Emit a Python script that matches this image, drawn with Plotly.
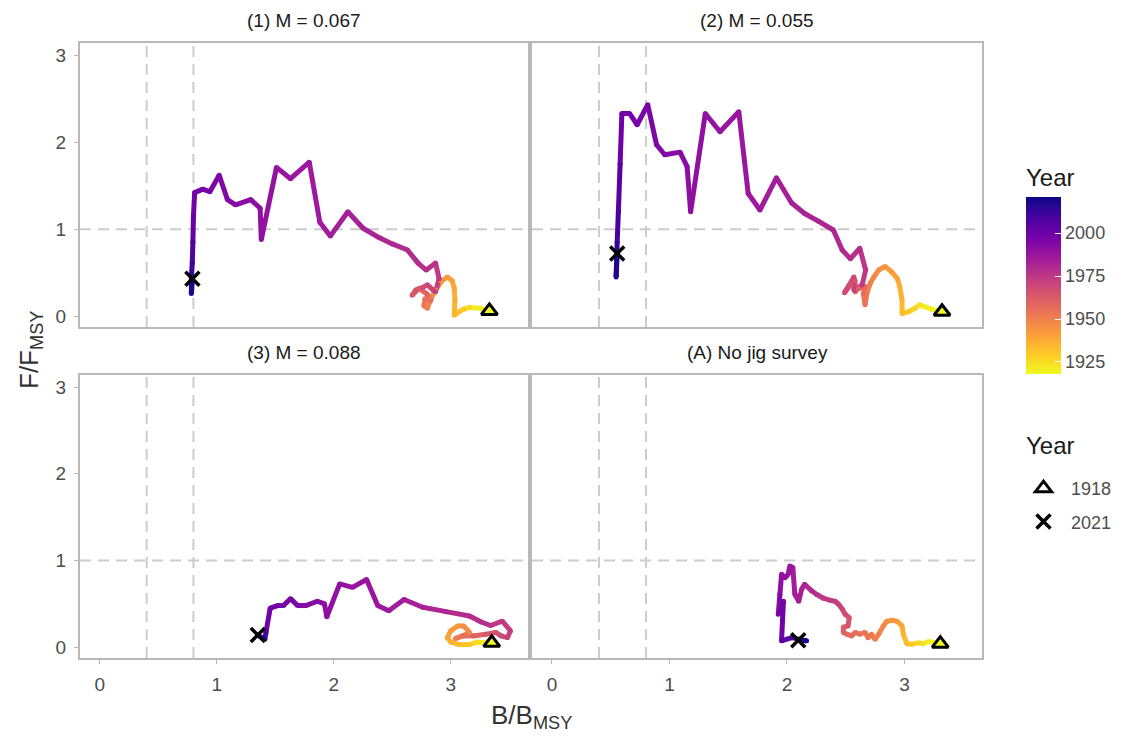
import plotly.graph_objects as go

# ---------------------------------------------------------------------------
# Data: relative biomass (B/BMSY) and fishing mortality (F/FMSY) by year
# ---------------------------------------------------------------------------
YEAR_MIN, YEAR_MAX = 1918, 2021

# (1) M = 0.067
years_m1 = [1918, 1922, 1926, 1929, 1932, 1935, 1937, 1939, 1941, 1943, 1945, 1947,
            1949, 1951, 1953, 1955, 1957, 1959, 1961, 1963, 1965, 1967, 1969, 1971,
            1973, 1975, 1977, 1978, 1979, 1980, 1981, 1982, 1983, 1984, 1985, 1986,
            1987, 1988, 1989, 1990, 1991, 1992, 1993, 1994, 1995, 1996, 1997, 1998,
            2002, 2007, 2011, 2015, 2018, 2021]
b_m1 = [3.33, 3.26, 3.16, 3.11, 3.07, 3.03, 3.035, 3.03, 3.01, 2.97, 2.92, 2.87,
        2.83, 2.80, 2.77, 2.78, 2.83, 2.80, 2.73, 2.67, 2.70, 2.76, 2.80, 2.85,
        2.87, 2.90, 2.87, 2.79, 2.72, 2.63, 2.50, 2.39, 2.25, 2.12, 1.97, 1.88,
        1.79, 1.63, 1.51, 1.38, 1.37, 1.29, 1.16, 1.09, 1.02, 0.94, 0.88, 0.81,
        0.80, 0.795, 0.79, 0.782, 0.782, 0.791]
f_m1 = [0.06, 0.09, 0.10, 0.08, 0.05, 0.01, 0.18, 0.32, 0.41, 0.45, 0.40, 0.30,
        0.20, 0.09, 0.12, 0.20, 0.18, 0.25, 0.32, 0.24, 0.30, 0.33, 0.36, 0.30,
        0.28, 0.43, 0.61, 0.53, 0.61, 0.76, 0.83, 0.90, 1.01, 1.20, 0.92, 1.08,
        1.77, 1.58, 1.71, 0.88, 1.24, 1.34, 1.28, 1.34, 1.62, 1.43, 1.46, 1.42,
        1.15, 0.85, 0.62, 0.45, 0.26, 0.43]

# (2) M = 0.055
years_m2 = [1918, 1921, 1924, 1927, 1930, 1933, 1936, 1938, 1940, 1942, 1944, 1946,
            1948, 1950, 1952, 1954, 1956, 1958, 1960, 1962, 1964, 1966, 1968, 1970,
            1972, 1974, 1976, 1978, 1979, 1980, 1981, 1982, 1983, 1984, 1985, 1986,
            1987, 1988, 1989, 1990, 1991, 1992, 1993, 1994, 1995, 1996, 1997, 1998,
            1999, 2004, 2009, 2013, 2017, 2021]
b_m2 = [3.32, 3.23, 3.13, 3.09, 3.035, 2.98, 2.98, 2.96, 2.94, 2.89, 2.835, 2.78,
        2.74, 2.71, 2.68, 2.665, 2.65, 2.665, 2.61, 2.58, 2.58, 2.54, 2.49, 2.57,
        2.57, 2.64, 2.67, 2.62, 2.54, 2.47, 2.395, 2.27, 2.15, 2.04, 1.91, 1.77,
        1.67, 1.59, 1.43, 1.305, 1.18, 1.15, 1.09, 0.96, 0.89, 0.815, 0.725, 0.66,
        0.595, 0.58, 0.565, 0.555, 0.546, 0.555]
f_m2 = [0.05, 0.08, 0.13, 0.09, 0.05, 0.03, 0.18, 0.34, 0.43, 0.51, 0.57, 0.53,
        0.45, 0.38, 0.26, 0.13, 0.26, 0.34, 0.32, 0.28, 0.41, 0.36, 0.27, 0.45,
        0.30, 0.36, 0.53, 0.78, 0.66, 0.76, 0.99, 1.09, 1.18, 1.30, 1.59, 1.22,
        1.41, 2.35, 2.12, 2.33, 1.20, 1.72, 1.885, 1.855, 1.97, 2.43, 2.20, 2.33,
        2.33, 1.75, 1.20, 0.85, 0.45, 0.72]

# (3) M = 0.088
years_m3 = [1918, 1922, 1926, 1930, 1934, 1937, 1940, 1942, 1944, 1946, 1948, 1950,
            1952, 1956, 1960, 1964, 1967, 1969, 1971, 1973, 1975, 1977, 1978, 1979,
            1981, 1983, 1985, 1986, 1987, 1988, 1989, 1990, 1991, 1992, 1993, 1994,
            1995, 1996, 1997, 1998, 1999, 2008, 2016, 2021]
b_m3 = [3.35, 3.285, 3.23, 3.16, 3.07, 3.00, 2.97, 3.00, 3.06, 3.11, 3.16, 3.10,
        3.04, 3.10, 3.19, 3.30, 3.385, 3.43, 3.485, 3.51, 3.44, 3.34, 3.26, 3.16,
        2.96, 2.76, 2.60, 2.47, 2.375, 2.28, 2.16, 2.05, 1.94, 1.92, 1.86, 1.76,
        1.69, 1.63, 1.57, 1.52, 1.456, 1.42, 1.41, 1.35]
f_m3 = [0.05, 0.05, 0.06, 0.03, 0.03, 0.06, 0.11, 0.19, 0.245, 0.245, 0.17, 0.13,
        0.10, 0.13, 0.13, 0.15, 0.17, 0.13, 0.11, 0.19, 0.30, 0.25, 0.29, 0.36,
        0.41, 0.46, 0.55, 0.42, 0.48, 0.78, 0.69, 0.73, 0.35, 0.50, 0.53, 0.48,
        0.48, 0.56, 0.48, 0.48, 0.45, 0.17, 0.09, 0.14]

# (A) No jig survey
years_a = [1918, 1921, 1924, 1927, 1930, 1933, 1936, 1939, 1942, 1944, 1946, 1948,
           1950, 1951, 1952, 1953, 1954, 1955, 1956, 1957, 1958, 1960, 1962, 1964,
           1966, 1968, 1970, 1972, 1973, 1974, 1976, 1978, 1980, 1982, 1983, 1984,
           1985, 1986, 1987, 1988, 1989, 1990, 1993, 1996, 1997, 1998, 2004, 2010,
           2017, 2021]
b_a = [3.305, 3.205, 3.16, 3.12, 3.063, 3.02, 2.99, 2.98, 2.935, 2.90, 2.85, 2.82,
       2.78, 2.75, 2.72, 2.69, 2.665, 2.62, 2.58, 2.55, 2.51, 2.48, 2.48, 2.52,
       2.53, 2.495, 2.47, 2.44, 2.41, 2.37, 2.31, 2.25, 2.21, 2.15, 2.125, 2.10,
       2.067, 2.05, 2.025, 2.01, 1.983, 1.954, 1.94, 1.926, 1.954, 1.97, 1.954, 2.04,
       2.167, 2.096]
f_a = [0.04, 0.065, 0.04, 0.05, 0.033, 0.04, 0.15, 0.245, 0.30, 0.31, 0.30, 0.245,
       0.15, 0.09, 0.15, 0.11, 0.17, 0.15, 0.17, 0.13, 0.15, 0.17, 0.23, 0.245,
       0.34, 0.38, 0.44, 0.495, 0.53, 0.54, 0.565, 0.61, 0.65, 0.726, 0.668, 0.53,
       0.61, 0.918, 0.937, 0.84, 0.80, 0.84, 0.61, 0.38, 0.46, 0.53, 0.073, 0.11,
       0.073, 0.081]

panel_titles = ["(1) M = 0.067", "(2) M = 0.055", "(3) M = 0.088", "(A) No jig survey"]
panel_data = [(years_m1, b_m1, f_m1), (years_m2, b_m2, f_m2),
              (years_m3, b_m3, f_m3), (years_a, b_a, f_a)]

b_ref_lines = [0.4, 0.8]
f_ref_lines = [1.0]
axis_ticks = [0, 1, 2, 3]
colorbar_ticks = [1925, 1950, 1975, 2000]

# ---------------------------------------------------------------------------
# Styling
# ---------------------------------------------------------------------------
FONT = "Liberation Sans, Arial, sans-serif"
PLASMA = ["#0d0887", "#46039f", "#7201a8", "#9c179e", "#bd3786",
          "#d8576b", "#ed7953", "#fb9f3a", "#fdca26", "#f0f921"]
BORDER = "#b8b8b8"
REF_LINE = "#cccccc"
LINE_W = 5
TICK_FONT = dict(size=19, color="#4d4d4d", family=FONT)
LEGEND_TITLE_FONT = dict(size=24, color="#1a1a1a", family=FONT)


def _hex(c):
    c = c.lstrip("#")
    return [int(c[i:i + 2], 16) for i in (0, 2, 4)]


def year_colour(year):
    """Reversed plasma: newest year dark blue, oldest yellow."""
    t = (YEAR_MAX - year) / (YEAR_MAX - YEAR_MIN)
    t = min(max(t, 0.0), 1.0)
    pos = t * (len(PLASMA) - 1)
    i = min(int(pos), len(PLASMA) - 2)
    frac = pos - i
    a, b = _hex(PLASMA[i]), _hex(PLASMA[i + 1])
    rgb = [round(a[k] + (b[k] - a[k]) * frac) for k in range(3)]
    return "rgb({},{},{})".format(*rgb)


# Plot area: margins in pixels, panel domains in paper units
W, H = 1127, 738
M_L, M_R, M_T, M_B = 80, 145, 43, 80
PW, PH = W - M_L - M_R, H - M_T - M_B
X_DOMAINS = [[0, 448 / PW], [452 / PW, 1]]
Y_DOMAINS = [[(H - M_B - 327) / PH, 1], [0, (H - M_B - 375) / PH]]
X_RANGE = [-0.17, 3.66]
Y_RANGE = [-0.125, 3.14]


def py(pixel_y):
    """Paper y for a pixel row measured from the top of the figure."""
    return (H - M_B - pixel_y) / PH


def px(pixel_x):
    return (pixel_x - M_L) / PW


fig = go.Figure()

panels = [(0, 0), (0, 1), (1, 0), (1, 1)]  # (row, col)
for idx, ((row, col), (yrs, bb, ff)) in enumerate(zip(panels, panel_data)):
    n = idx + 1
    xa = "x" if n == 1 else f"x{n}"
    ya = "y" if n == 1 else f"y{n}"

    # coloured path, one segment per consecutive pair of years
    for i in range(len(yrs) - 1):
        fig.add_trace(go.Scatter(
            x=[bb[i], bb[i + 1]], y=[ff[i], ff[i + 1]], mode="lines",
            line=dict(color=year_colour(yrs[i]), width=LINE_W),
            hoverinfo="skip", showlegend=False, xaxis=xa, yaxis=ya))

    # round joins at each year
    marker = dict(size=LINE_W, color=yrs, colorscale="Plasma_r",
                  cmin=YEAR_MIN, cmax=YEAR_MAX, line=dict(width=0))
    if n == 1:
        marker.update(showscale=True, colorbar=dict(
            title=dict(text="Year", side="top", font=LEGEND_TITLE_FONT),
            x=px(1026), xanchor="left", xpad=0,
            y=py(374), yanchor="bottom", ypad=0,
            lenmode="pixels", len=173 + 36, thicknessmode="pixels", thickness=35,
            outlinewidth=0, ticks="inside", ticklen=6, tickcolor="white",
            tickwidth=1, tickvals=colorbar_ticks, tickprefix=" ",
            tickfont=dict(size=18, color="#4d4d4d", family=FONT)))
    fig.add_trace(go.Scatter(
        x=bb, y=ff, mode="markers", marker=marker, customdata=yrs,
        hovertemplate="Year %{customdata}<br>B/BMSY %{x:.2f}<br>F/FMSY %{y:.2f}<extra></extra>",
        showlegend=False, xaxis=xa, yaxis=ya))

    # first and last year markers
    fig.add_trace(go.Scatter(
        x=[bb[0]], y=[ff[0]], mode="markers",
        marker=dict(symbol="triangle-up", size=14, color=year_colour(yrs[0]),
                    line=dict(color="black", width=3)),
        hoverinfo="skip", showlegend=False, xaxis=xa, yaxis=ya))
    fig.add_trace(go.Scatter(
        x=[bb[-1]], y=[ff[-1]], mode="markers",
        marker=dict(symbol="x-thin", size=14, color="black",
                    line=dict(color="black", width=3.5)),
        hoverinfo="skip", showlegend=False, xaxis=xa, yaxis=ya))

    # reference lines
    for bv in b_ref_lines:
        fig.add_shape(type="line", xref=xa, yref=f"{ya} domain", x0=bv, x1=bv,
                      y0=0, y1=1, layer="below",
                      line=dict(color=REF_LINE, width=2, dash="11px,7px"))
    for fv in f_ref_lines:
        fig.add_shape(type="line", xref=f"{xa} domain", yref=ya, x0=0, x1=1,
                      y0=fv, y1=fv, layer="below",
                      line=dict(color=REF_LINE, width=2, dash="11px,7px"))

    # axes
    xkey = "xaxis" if n == 1 else f"xaxis{n}"
    ykey = "yaxis" if n == 1 else f"yaxis{n}"
    bottom, left = row == 1, col == 0
    fig.update_layout({
        xkey: dict(domain=X_DOMAINS[col], range=X_RANGE, anchor=ya,
                   showgrid=False, zeroline=False, showline=True, mirror=True,
                   linecolor=BORDER, linewidth=2,
                   tickvals=axis_ticks, ticks="outside" if bottom else "",
                   ticklen=4, tickcolor=BORDER, showticklabels=bottom,
                   ticklabelstandoff=4, tickfont=TICK_FONT),
        ykey: dict(domain=Y_DOMAINS[row], range=Y_RANGE, anchor=xa,
                   showgrid=False, zeroline=False, showline=True, mirror=True,
                   linecolor=BORDER, linewidth=2,
                   tickvals=axis_ticks, ticks="outside" if left else "",
                   ticklen=4, tickcolor=BORDER, showticklabels=left,
                   ticklabelstandoff=4, tickfont=TICK_FONT),
    })

    # facet title
    fig.add_annotation(
        text=panel_titles[idx], xref="paper", yref="paper",
        x=sum(X_DOMAINS[col]) / 2, y=py(20 if row == 0 else 352),
        xanchor="center", yanchor="middle", showarrow=False,
        font=dict(size=19, color="#1a1a1a", family=FONT))

# legend entries for the first / last year symbols
fig.add_trace(go.Scatter(
    x=[None], y=[None], mode="markers", name=str(YEAR_MIN), legendgroup="first",
    marker=dict(symbol="triangle-up-open", size=14, color="black",
                line=dict(color="black", width=3))))
fig.add_trace(go.Scatter(
    x=[None], y=[None], mode="markers", name=str(YEAR_MAX), legendgroup="last",
    marker=dict(symbol="x-thin", size=14, color="black",
                line=dict(color="black", width=3.5))))

# title of the symbol legend
fig.add_annotation(text="Year", xref="paper", yref="paper",
                   x=px(1024), y=py(445), xanchor="left", yanchor="middle",
                   showarrow=False, font=LEGEND_TITLE_FONT)

# axis titles
fig.add_annotation(text="B/B<sub>MSY</sub>", xref="paper", yref="paper",
                   x=0.5, y=py(716), xanchor="center",
                   yanchor="middle", showarrow=False,
                   font=dict(size=26, color="#333333", family=FONT))
fig.add_annotation(text="F/F<sub>MSY</sub>", xref="paper", yref="paper",
                   x=px(30), y=py(350), xanchor="center",
                   yanchor="middle", textangle=-90, showarrow=False,
                   font=dict(size=26, color="#333333", family=FONT))

fig.update_layout(
    width=W, height=H,
    margin=dict(l=M_L, r=M_R, t=M_T, b=M_B, autoexpand=False),
    paper_bgcolor="white", plot_bgcolor="white",
    font=dict(family=FONT),
    legend=dict(x=px(1016), xanchor="left",
                y=py(470), yanchor="top",
                font=dict(size=18, color="#4d4d4d"),
                itemwidth=45,
                bgcolor="rgba(0,0,0,0)", tracegroupgap=7),
)

fig.write_html("out.html")
